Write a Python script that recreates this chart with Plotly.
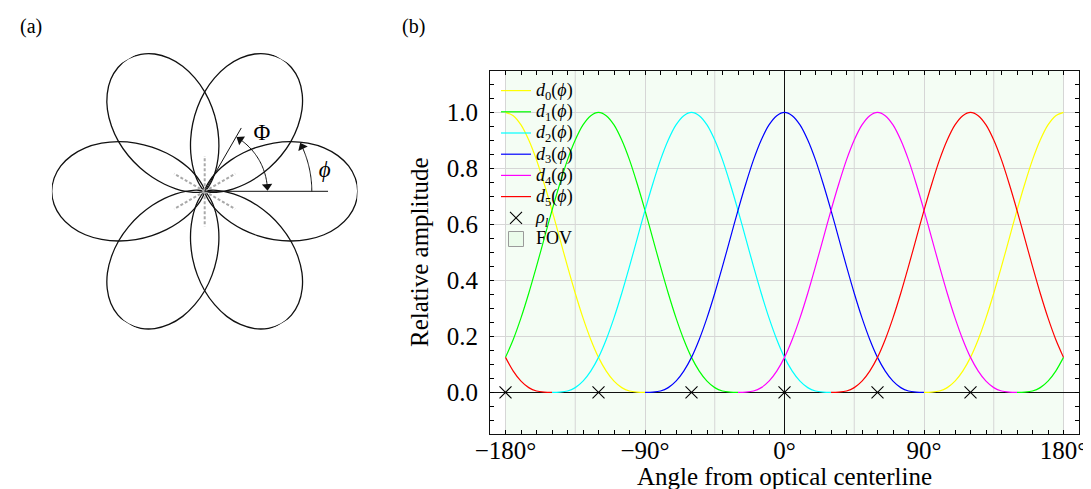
import numpy as np
import plotly.graph_objects as go

# ---------------- data ----------------
# half-profile of one detector lobe, offset from lobe axis
LOBE_OFFSET_DEG = [0, 5, 10, 15, 20, 25, 30, 35, 40, 45, 50, 55, 60, 65, 70, 75, 80, 85, 90]
LOBE_AMPLITUDE = [1.0, 0.988, 0.955, 0.901, 0.830, 0.744, 0.650, 0.550, 0.450, 0.354,
                  0.266, 0.189, 0.125, 0.076, 0.040, 0.017, 0.005, 0.001, 0.0]

CURVE_NAMES = ["d0", "d1", "d2", "d3", "d4", "d5"]
CURVE_PEAKS_DEG = [-180, -120, -60, 0, 60, 120]
CURVE_COLORS = ["#ffff00", "#00ff00", "#00ffff", "#0000ff", "#ff00ff", "#ff0000"]

RHO_L_DEG = [-180, -120, -60, 0, 60, 120]
RHO_L_VAL = [0, 0, 0, 0, 0, 0]

FOV_RANGE = [-180, 180]

X_TICKS = [-180, -90, 0, 90, 180]
X_TICK_LABELS = ["\u2212180°", "\u221290°", "0°", "90°", "180°"]
X_EXTRA_GRID = [-135, -45, 45, 135]
Y_TICKS = [0.0, 0.2, 0.4, 0.6, 0.8, 1.0]
Y_TICK_LABELS = ["0.0", "0.2", "0.4", "0.6", "0.8", "1.0"]

X_TITLE = "Angle from optical centerline"
Y_TITLE = "Relative amplitude"

# panel (a)
PETAL_CENTERS_DEG = [0, 60, 120, 180, 240, 300]
BOUNDARY_ANGLES_DEG = [30, 90, 150, 210, 270, 330]
BOUNDARY_LEN = 0.23
AXIS_LINE_60 = 0.478
AXIS_LINE_0 = 0.806
BIG_PHI_ARC = dict(r=0.41, start=4.5, end=55.5)
SMALL_PHI_ARC = dict(r=0.70, start=0.0, end=24.6)

FONT = "Liberation Serif"
LEG = '<span style="font-size:18px">{}</span>'

# full symmetric lobe
off_full = [-o for o in LOBE_OFFSET_DEG[::-1]] + LOBE_OFFSET_DEG[1:]
amp_full = LOBE_AMPLITUDE[::-1] + LOBE_AMPLITUDE[1:]

fig = go.Figure()

# ---------------- panel (b) ----------------
for name, peak, col in zip(CURVE_NAMES, CURVE_PEAKS_DEG, CURVE_COLORS):
    xs, ys = [], []
    for shift in (-360, 0, 360):
        seg_x, seg_y = [], []
        for o, a in zip(off_full, amp_full):
            x = peak + o + shift
            if FOV_RANGE[0] <= x <= FOV_RANGE[1]:
                seg_x.append(x)
                seg_y.append(a)
        if len(seg_x) > 1:
            xs += seg_x + [None]
            ys += seg_y + [None]
    idx = name[1:]
    fig.add_trace(go.Scatter(
        x=xs, y=ys, mode="lines",
        name=LEG.format(f"<i>d</i><sub>{idx}</sub>(<i>\u03d5</i>)"),
        line=dict(color=col, width=1.2, shape="spline", smoothing=0.8),
        xaxis="x", yaxis="y", hoverinfo="skip"))

fig.add_trace(go.Scatter(
    x=RHO_L_DEG, y=RHO_L_VAL, mode="markers",
    name=LEG.format("<i>\u03c1</i><sub><i>l</i></sub>"),
    marker=dict(symbol="x-thin", size=12, line=dict(color="black", width=1.1), color="black"),
    xaxis="x", yaxis="y"))

fig.add_trace(go.Scatter(
    x=[None], y=[None], mode="markers", name=LEG.format("FOV"),
    marker=dict(symbol="square", size=15, color="rgba(144,238,144,0.1)",
                line=dict(color="#9a9a9a", width=1)),
    xaxis="x", yaxis="y"))

shapes = [dict(type="rect", xref="x", yref="y domain", x0=FOV_RANGE[0], x1=FOV_RANGE[1],
               y0=0, y1=1, fillcolor="rgba(144,238,144,0.1)", line=dict(width=0), layer="below")]
for g in X_EXTRA_GRID:
    shapes.append(dict(type="line", xref="x", yref="y domain", x0=g, x1=g, y0=0, y1=1,
                       line=dict(color="#d6d6d6", width=1), layer="below"))

# ---------------- panel (a) ----------------
for c in PETAL_CENTERS_DEG:
    fig.add_trace(go.Scatterpolar(
        r=amp_full, theta=[c + o for o in off_full], mode="lines",
        line=dict(color="#111111", width=1.3, shape="spline"),
        showlegend=False, subplot="polar", hoverinfo="skip", cliponaxis=False))

br, bt = [], []
for a in BOUNDARY_ANGLES_DEG:
    br += [0, BOUNDARY_LEN, None]
    bt += [a, a, None]
fig.add_trace(go.Scatterpolar(r=br, theta=bt, mode="lines",
                              line=dict(color="#a9a9a9", width=2, dash="3px,2px"),
                              showlegend=False, subplot="polar", hoverinfo="skip"))

fig.add_trace(go.Scatterpolar(r=[0, AXIS_LINE_60, None, 0, AXIS_LINE_0],
                              theta=[60, 60, None, 0, 0], mode="lines",
                              line=dict(color="#111111", width=1),
                              showlegend=False, subplot="polar", hoverinfo="skip"))

for arc in (BIG_PHI_ARC, SMALL_PHI_ARC):
    th = np.linspace(arc["start"], arc["end"], 40)
    fig.add_trace(go.Scatterpolar(r=[arc["r"]] * len(th), theta=th, mode="lines",
                                  line=dict(color="#111111", width=1),
                                  showlegend=False, subplot="polar", hoverinfo="skip"))

fig.add_trace(go.Scatterpolar(
    r=[BIG_PHI_ARC["r"], BIG_PHI_ARC["r"], SMALL_PHI_ARC["r"]],
    theta=[BIG_PHI_ARC["start"], BIG_PHI_ARC["end"], SMALL_PHI_ARC["end"]],
    mode="markers",
    marker=dict(symbol="triangle-up", size=9, color="#111111",
                angle=[180 - BIG_PHI_ARC["start"], -BIG_PHI_ARC["end"], -SMALL_PHI_ARC["end"]]),
    showlegend=False, subplot="polar", hoverinfo="skip", cliponaxis=False))

fig.add_trace(go.Scatterpolar(
    r=[0.53, 0.795], theta=[45, 9.5], mode="text",
    text=["\u03a6", "<i>\u03d5</i>"],
    textfont=dict(family=FONT, size=23, color="black"),
    showlegend=False, subplot="polar", hoverinfo="skip", cliponaxis=False))

W, H = 1091, 489
cx, cy, R = 196.7, 183.3, 153.0

axis_common = dict(
    ticks="inside", ticklen=4, tickwidth=1, tickcolor="black",
    showline=True, linecolor="#111111", linewidth=1.2, mirror="ticks",
    showgrid=True, gridcolor="#d6d6d6", gridwidth=1,
    zeroline=True, zerolinecolor="#111111", zerolinewidth=1,
    tickfont=dict(family=FONT, size=25, color="black"),
    automargin=False,
)

fig.update_layout(
    width=W, height=H,
    margin=dict(l=0, r=0, t=0, b=0, autoexpand=False),
    paper_bgcolor="white", plot_bgcolor="white",
    font=dict(family=FONT, color="black", size=22),
    showlegend=True,
    legend=dict(x=488 / W, y=1 - 67 / H, xanchor="left", yanchor="top",
                bgcolor="rgba(0,0,0,0)", borderwidth=0,
                font=dict(family=FONT, size=14, color="black"),
                tracegroupgap=0, itemwidth=30),
    xaxis=dict(domain=[482 / W, 1071 / W], range=[-190, 190],
               tickmode="array", tickvals=X_TICKS, ticktext=X_TICK_LABELS,
               ticklabelstandoff=-6,
               minor=dict(tickmode="linear", tick0=0, dtick=10, ticks="inside",
                          ticklen=4, tickwidth=1, tickcolor="black", showgrid=False),
               **axis_common),
    yaxis=dict(domain=[1 - 425.7 / H, 1 - 63 / H], range=[-0.1475, 1.1475],
               tickmode="array", tickvals=Y_TICKS, ticktext=Y_TICK_LABELS,
               ticklabelstandoff=6,
               minor=dict(tickmode="linear", tick0=0, dtick=0.05, ticks="inside",
                          ticklen=4, tickwidth=1, tickcolor="black", showgrid=False),
               **axis_common),
    polar=dict(domain=dict(x=[(cx - R) / W, (cx + R) / W], y=[1 - (cy + R) / H, 1 - (cy - R) / H]),
               bgcolor="rgba(0,0,0,0)",
               radialaxis=dict(visible=False, range=[0, 1]),
               angularaxis=dict(visible=False)),
    shapes=shapes,
    annotations=[
        dict(text="(a)", x=23 / W, y=1 - 18 / H, xref="paper", yref="paper",
             xanchor="center", yanchor="middle",
             showarrow=False, font=dict(family=FONT, size=20)),
        dict(text="(b)", x=405 / W, y=1 - 18 / H, xref="paper", yref="paper",
             xanchor="center", yanchor="middle",
             showarrow=False, font=dict(family=FONT, size=20)),
        dict(text=X_TITLE, x=776 / W, y=1 - 468 / H, xref="paper", yref="paper",
             xanchor="center", yanchor="middle",
             showarrow=False, font=dict(family=FONT, size=25)),
        dict(text=Y_TITLE, x=411 / W, y=1 - 244 / H, xref="paper", yref="paper",
             xanchor="center", yanchor="middle", textangle=-90,
             showarrow=False, font=dict(family=FONT, size=25)),
    ],
)

fig.write_html("out.html")
